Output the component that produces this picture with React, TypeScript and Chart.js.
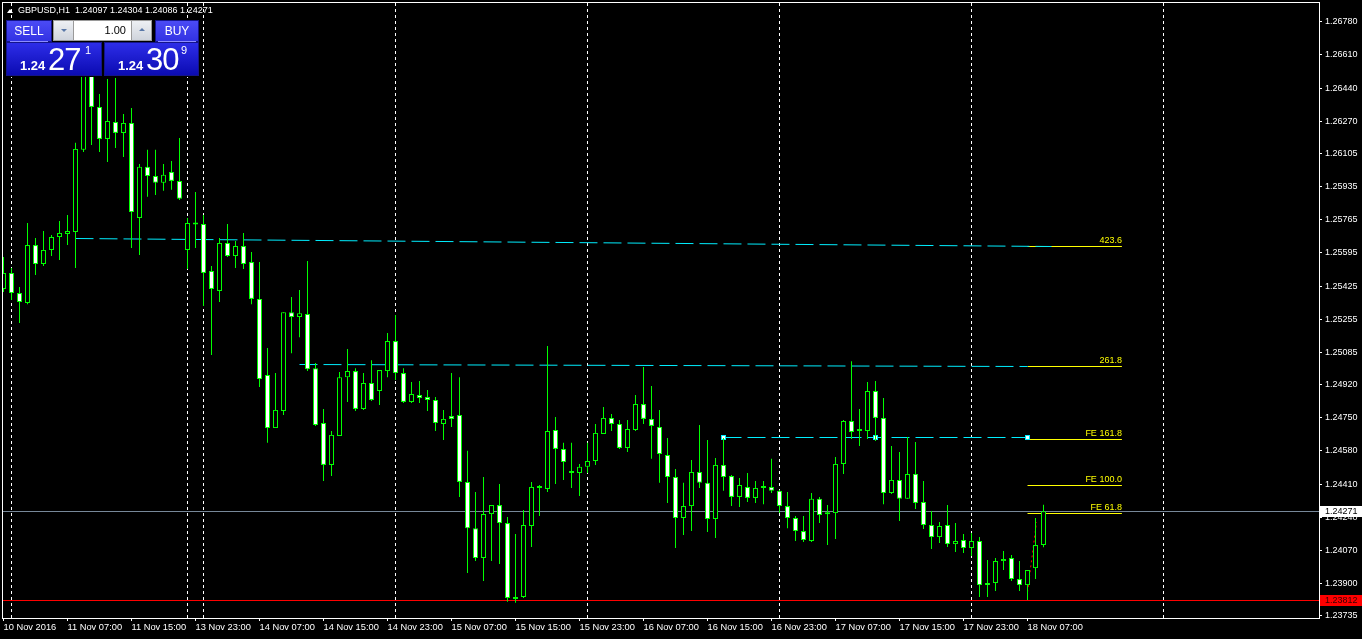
import React, { useEffect, useRef } from "react";
import { Chart, registerables } from "chart.js";

Chart.register(...registerables);

const FONT = '"Liberation Sans", Arial, sans-serif';

// ---- OHLC data, GBPUSD H1, 10 Nov 23:00 .. 18 Nov 09:00 ----
const opens = [
  1.25410, 1.25492, 1.25389, 1.25338, 1.25635, 1.25538, 1.25610, 1.25676, 1.25692, 1.25702,
  1.26123, 1.26522, 1.26343, 1.26179, 1.26266, 1.26210, 1.26261, 1.25774, 1.26036, 1.25989,
  1.25954, 1.26010, 1.25964, 1.25610, 1.25745, 1.25743, 1.25502, 1.25400, 1.25646, 1.25579,
  1.25630, 1.25548, 1.25359, 1.24969, 1.24697, 1.24785, 1.25291, 1.25266, 1.25281, 1.25004,
  1.24723, 1.24508, 1.24656, 1.24958, 1.24989, 1.24795, 1.24928, 1.24887, 1.24989, 1.25143,
  1.24979, 1.24831, 1.24866, 1.24856, 1.24841, 1.24718, 1.24759, 1.24764, 1.24421, 1.24184,
  1.24031, 1.24256, 1.24302, 1.24210, 1.23831, 1.23831, 1.24195, 1.24392, 1.24385, 1.24687,
  1.24590, 1.24469, 1.24467, 1.24498, 1.24528, 1.24667, 1.24749, 1.24718, 1.24595, 1.24687,
  1.24820, 1.24744, 1.24703, 1.24559, 1.24446, 1.24236, 1.24297, 1.24472, 1.24416, 1.24231,
  1.24508, 1.24451, 1.24344, 1.24395, 1.24339, 1.24392, 1.24395, 1.24375, 1.24297, 1.24236,
  1.24169, 1.24118, 1.24334, 1.24258, 1.24261, 1.24513, 1.24733, 1.24684, 1.24682, 1.24887,
  1.24749, 1.24364, 1.24431, 1.24334, 1.24462, 1.24318, 1.24200, 1.24138, 1.24200, 1.24102,
  1.24123, 1.24082, 1.24118, 1.23903, 1.23903, 1.24015, 1.24031, 1.23923, 1.23892, 1.23979,
  1.24097,
];
const highs = [
  1.25574, 1.25517, 1.25420, 1.25748, 1.25671, 1.25707, 1.25687, 1.25758, 1.25789, 1.26159,
  1.26609, 1.26660, 1.26409, 1.26486, 1.26491, 1.26307, 1.26338, 1.26051, 1.26123, 1.26123,
  1.26051, 1.26066, 1.26184, 1.25774, 1.25907, 1.25789, 1.25528, 1.25671, 1.25743, 1.25656,
  1.25697, 1.25599, 1.25548, 1.25107, 1.24979, 1.25291, 1.25369, 1.25405, 1.25553, 1.25030,
  1.24795, 1.24682, 1.24984, 1.25102, 1.25004, 1.24979, 1.25045, 1.24994, 1.25184, 1.25276,
  1.25004, 1.24933, 1.24938, 1.24892, 1.24856, 1.24790, 1.24979, 1.24958, 1.24580, 1.24369,
  1.24446, 1.24302, 1.24410, 1.24241, 1.24154, 1.24277, 1.24421, 1.24405, 1.25117, 1.24754,
  1.24621, 1.24621, 1.24513, 1.24621, 1.24718, 1.24805, 1.24769, 1.24738, 1.24738, 1.24866,
  1.25010, 1.24912, 1.24790, 1.24646, 1.24487, 1.24416, 1.24533, 1.24713, 1.24636, 1.24544,
  1.24646, 1.24456, 1.24441, 1.24467, 1.24426, 1.24426, 1.24539, 1.24380, 1.24369, 1.24246,
  1.24246, 1.24364, 1.24344, 1.24302, 1.24549, 1.24738, 1.25040, 1.24795, 1.24933, 1.24938,
  1.24851, 1.24605, 1.24574, 1.24651, 1.24626, 1.24426, 1.24272, 1.24215, 1.24302, 1.24210,
  1.24154, 1.24159, 1.24138, 1.24020, 1.24031, 1.24067, 1.24046, 1.24015, 1.23969, 1.24236,
  1.24304,
];
const lows = [
  1.25394, 1.25353, 1.25235, 1.25332, 1.25482, 1.25528, 1.25579, 1.25558, 1.25635, 1.25517,
  1.26112, 1.26148, 1.26112, 1.26061, 1.26133, 1.26087, 1.25620, 1.25584, 1.25882, 1.25892,
  1.25913, 1.25918, 1.25866, 1.25512, 1.25620, 1.25322, 1.25071, 1.25343, 1.25574, 1.25517,
  1.25512, 1.25332, 1.24907, 1.24621, 1.24697, 1.24764, 1.25081, 1.25163, 1.24989, 1.24708,
  1.24426, 1.24451, 1.24656, 1.24831, 1.24785, 1.24790, 1.24836, 1.24815, 1.24958, 1.24943,
  1.24826, 1.24826, 1.24826, 1.24785, 1.24682, 1.24636, 1.24703, 1.24344, 1.23954, 1.24015,
  1.23913, 1.24015, 1.24000, 1.23806, 1.23801, 1.23826, 1.24087, 1.24246, 1.24369, 1.24410,
  1.24431, 1.24390, 1.24349, 1.24467, 1.24508, 1.24667, 1.24682, 1.24590, 1.24574, 1.24682,
  1.24718, 1.24539, 1.24416, 1.24313, 1.24082, 1.24149, 1.24169, 1.24390, 1.24164, 1.24133,
  1.24375, 1.24297, 1.24292, 1.24318, 1.24313, 1.24307, 1.24364, 1.24261, 1.24184, 1.24118,
  1.24113, 1.24113, 1.24210, 1.24097, 1.24128, 1.24462, 1.24641, 1.24605, 1.24641, 1.24631,
  1.24307, 1.24359, 1.24220, 1.24334, 1.24282, 1.24179, 1.24077, 1.24108, 1.24087, 1.24061,
  1.24056, 1.24041, 1.23831, 1.23831, 1.23862, 1.23969, 1.23913, 1.23862, 1.23816, 1.23923,
  1.24086,
];
const closes = [
  1.25492, 1.25389, 1.25343, 1.25635, 1.25538, 1.25610, 1.25676, 1.25697, 1.25707, 1.26128,
  1.26522, 1.26343, 1.26179, 1.26271, 1.26210, 1.26261, 1.25804, 1.26036, 1.25989, 1.25954,
  1.25995, 1.25964, 1.25872, 1.25748, 1.25741, 1.25492, 1.25410, 1.25646, 1.25579, 1.25630,
  1.25538, 1.25359, 1.24948, 1.24697, 1.24790, 1.25291, 1.25266, 1.25286, 1.24999, 1.24713,
  1.24508, 1.24662, 1.24958, 1.24989, 1.24795, 1.24928, 1.24841, 1.24994, 1.25143, 1.24979,
  1.24831, 1.24871, 1.24851, 1.24841, 1.24723, 1.24744, 1.24744, 1.24421, 1.24184, 1.24031,
  1.24256, 1.24302, 1.24210, 1.23826, 1.23821, 1.24200, 1.24395, 1.24390, 1.24682, 1.24590,
  1.24523, 1.24466, 1.24498, 1.24528, 1.24672, 1.24749, 1.24718, 1.24595, 1.24692, 1.24820,
  1.24744, 1.24708, 1.24564, 1.24446, 1.24236, 1.24297, 1.24472, 1.24416, 1.24231, 1.24508,
  1.24446, 1.24344, 1.24405, 1.24339, 1.24390, 1.24390, 1.24375, 1.24297, 1.24236, 1.24169,
  1.24123, 1.24334, 1.24251, 1.24255, 1.24513, 1.24733, 1.24677, 1.24682, 1.24887, 1.24749,
  1.24364, 1.24431, 1.24334, 1.24462, 1.24313, 1.24200, 1.24138, 1.24195, 1.24102, 1.24118,
  1.24082, 1.24118, 1.23892, 1.23892, 1.24015, 1.24026, 1.23923, 1.23892, 1.23969, 1.24097,
  1.24271,
];

// ---- axes ----
const xTickIndex = [0, 8, 16, 24, 32, 40, 48, 56, 64, 72, 80, 88, 96, 104, 112, 120, 128];
const xTickLabels = [
  "10 Nov 2016", "11 Nov 07:00", "11 Nov 15:00", "13 Nov 23:00", "14 Nov 07:00", "14 Nov 15:00",
  "14 Nov 23:00", "15 Nov 07:00", "15 Nov 15:00", "15 Nov 23:00", "16 Nov 07:00", "16 Nov 15:00",
  "16 Nov 23:00", "17 Nov 07:00", "17 Nov 15:00", "17 Nov 23:00", "18 Nov 07:00",
];
const yTickValues = [
  1.26780, 1.26610, 1.26440, 1.26270, 1.26105, 1.25935, 1.25765, 1.25595, 1.25425, 1.25255,
  1.25085, 1.24920, 1.24750, 1.24580, 1.24410, 1.24240, 1.24070, 1.23900, 1.23735,
];
const separatorIndex = [1, 23, 25, 49, 73, 97, 121, 145];

// ---- objects ----
const bidPrice = 1.24271;
const lowLinePrice = 1.23812;
const fibLabels = ["423.6", "261.8", "FE 161.8", "FE 100.0", "FE 61.8"];
const fibPrices = [1.25630, 1.25015, 1.24640, 1.24403, 1.24260];
const fibStartIndex = 128;
const fibEndIndex = 139.8;
const cyanStartIndex = [9, 37, 90];
const cyanStartPrice = [1.25671, 1.25023, 1.24646];
const cyanEndIndex = [131, 128, 128];
const cyanEndPrice = [1.25630, 1.25012, 1.24649];
const anchorIndex = [90, 109, 128];
const anchorPrice = [1.24646, 1.24646, 1.24649];
const redTrendIndex = [128, 129.1];
const redTrendPrice = [1.23856, 1.24215];

const X_MIN = -0.0625;
const X_MAX = 164.4375;
const Y_MIN = 1.237233;
const Y_MAX = 1.268758;

const mtPlugin = {
  id: "mt4",
  beforeDraw(chart: any) {
    const c = chart.ctx;
    c.save();
    c.fillStyle = "#000";
    c.fillRect(0, 0, chart.width, chart.height);
    c.restore();
  },
  beforeDatasetsDraw(chart: any) {
    const { ctx, chartArea: a } = chart;
    const xs = chart.scales.x;
    const ys = chart.scales.y;
    const X = (i: number) => Math.floor(xs.getPixelForValue(i)) + 0.5;
    const Y = (p: number) => Math.floor(ys.getPixelForValue(p)) + 0.5;
    ctx.save();
    ctx.beginPath();
    ctx.rect(a.left, a.top, a.right - a.left, a.bottom - a.top);
    ctx.clip();
    ctx.lineWidth = 1;

    // period separators
    ctx.strokeStyle = "#ffffff";
    ctx.setLineDash([3, 3]);
    for (const i of separatorIndex) {
      const x = X(i);
      ctx.beginPath();
      ctx.moveTo(x, a.top);
      ctx.lineTo(x, a.bottom);
      ctx.stroke();
    }

    // fibo expansion level segments
    ctx.setLineDash([]);
    ctx.strokeStyle = "#ffff00";
    fibPrices.forEach((p) => {
      const y = Y(p);
      ctx.beginPath();
      ctx.moveTo(X(fibStartIndex), y);
      ctx.lineTo(xs.getPixelForValue(fibEndIndex), y);
      ctx.stroke();
    });
    ctx.fillStyle = "#ffff00";
    ctx.font = `9px ${FONT}`;
    ctx.textAlign = "right";
    ctx.textBaseline = "alphabetic";
    fibPrices.forEach((p, k) => {
      ctx.fillText(fibLabels[k], xs.getPixelForValue(fibEndIndex), Y(p) - 3.5);
    });

    // cyan dashed lines
    ctx.strokeStyle = "#00eeff";
    ctx.setLineDash([18, 6]);
    for (let k = 0; k < cyanStartIndex.length; k++) {
      ctx.beginPath();
      ctx.moveTo(xs.getPixelForValue(cyanStartIndex[k]), Y(cyanStartPrice[k]));
      ctx.lineTo(xs.getPixelForValue(cyanEndIndex[k]), Y(cyanEndPrice[k]));
      ctx.stroke();
    }
    ctx.setLineDash([]);
    for (let k = 0; k < anchorIndex.length; k++) {
      const x = Math.floor(xs.getPixelForValue(anchorIndex[k]));
      const y = Math.floor(ys.getPixelForValue(anchorPrice[k]));
      ctx.fillStyle = "#00eeff";
      ctx.fillRect(x - 2, y - 2, 5, 5);
      ctx.fillStyle = "#ffffff";
      ctx.fillRect(x - 1, y - 1, 3, 3);
    }

    // bid line and low line
    ctx.strokeStyle = "#778899";
    ctx.beginPath();
    ctx.moveTo(a.left, Y(bidPrice));
    ctx.lineTo(a.right, Y(bidPrice));
    ctx.stroke();
    ctx.strokeStyle = "#ff0000";
    ctx.beginPath();
    ctx.moveTo(a.left, Y(lowLinePrice));
    ctx.lineTo(a.right, Y(lowLinePrice));
    ctx.stroke();

    // red dotted trend
    ctx.setLineDash([2, 3]);
    ctx.beginPath();
    ctx.moveTo(X(redTrendIndex[0]), ys.getPixelForValue(redTrendPrice[0]));
    ctx.lineTo(X(redTrendIndex[1]), ys.getPixelForValue(redTrendPrice[1]));
    ctx.stroke();
    ctx.restore();
  },
  afterDraw(chart: any) {
    const { ctx, chartArea: a } = chart;
    const ys = chart.scales.y;
    ctx.save();
    ctx.strokeStyle = "#ffffff";
    ctx.lineWidth = 1;
    ctx.setLineDash([]);
    ctx.strokeRect(a.left - 0.5, a.top - 0.5, a.right - a.left + 1, a.bottom - a.top + 1);

    ctx.font = `9px ${FONT}`;
    ctx.textAlign = "left";
    ctx.textBaseline = "middle";
    const yb = Math.floor(ys.getPixelForValue(bidPrice));
    ctx.fillStyle = "#ffffff";
    ctx.fillRect(a.right + 1, yb - 5, chart.width - a.right - 1, 11);
    ctx.fillStyle = "#000000";
    ctx.fillText(bidPrice.toFixed(5), a.right + 6, yb + 0.5);
    const yl = Math.floor(ys.getPixelForValue(lowLinePrice));
    ctx.fillStyle = "#ff0000";
    ctx.fillRect(a.right + 1, yl - 5, chart.width - a.right - 1, 11);
    ctx.fillStyle = "#3a0000";
    ctx.fillText(lowLinePrice.toFixed(5), a.right + 6, yl + 0.5);
    ctx.restore();
  },
};

const blueTop = "linear-gradient(#4c4cf6, #3131e2)";
const blueBox = "linear-gradient(#2e2eea, #0a0ab0)";

const abs = (s: React.CSSProperties): React.CSSProperties => ({ position: "absolute", ...s });

export default function App() {
  const ref = useRef<HTMLCanvasElement>(null);

  useEffect(() => {
    const idx = opens.map((_, i) => i);
    const bull = opens.map((o, i) => closes[i] > o);
    const bodyData = idx.map((i) => ({ x: i, y: [opens[i], closes[i]] }));
    const wickData = idx.map((i) => ({ x: i, y: [lows[i], highs[i]] }));

    const chart = new Chart(ref.current as HTMLCanvasElement, {
      type: "bar",
      data: {
        datasets: [
          {
            label: "body",
            data: bodyData as any,
            order: 0,
            grouped: false,
            barThickness: 5,
            minBarLength: 2,
            backgroundColor: bull.map((b) => (b ? "#000000" : "#ffffff")),
            borderColor: "#00ff00",
            borderWidth: 1,
            borderSkipped: false,
            inflateAmount: 0,
          } as any,
          {
            label: "wick",
            data: wickData as any,
            order: 1,
            grouped: false,
            barThickness: 1,
            backgroundColor: "#00ff00",
            borderWidth: 0,
            inflateAmount: 0,
          } as any,
        ],
      },
      options: {
        animation: false,
        responsive: false,
        events: [],
        layout: { padding: { left: 3, top: 3, right: 0, bottom: 0 } },
        plugins: { legend: { display: false }, tooltip: { enabled: false } },
        scales: {
          x: {
            type: "linear",
            min: X_MIN,
            max: X_MAX,
            offset: false,
            afterFit: (s: any) => {
              s.height = 21;
              s.paddingLeft = 0;
              s.paddingRight = 0;
              s.paddingTop = 0;
              s.paddingBottom = 0;
            },
            afterBuildTicks: (s: any) => {
              s.ticks = xTickIndex.map((v) => ({ value: v }));
            },
            ticks: {
              color: "#ffffff",
              font: { family: FONT, size: 9.3 },
              padding: 1,
              maxRotation: 0,
              minRotation: 0,
              autoSkip: false,
              align: "start",
              callback: (_v: any, i: number) => xTickLabels[i],
            },
            grid: { offset: false, drawOnChartArea: false, drawTicks: true, tickLength: 3, color: "#ffffff" },
            border: { display: false },
          } as any,
          y: {
            type: "linear",
            position: "right",
            min: Y_MIN,
            max: Y_MAX,
            beginAtZero: false,
            afterFit: (s: any) => {
              s.width = 43;
              s.paddingLeft = 0;
              s.paddingRight = 0;
              s.paddingTop = 0;
              s.paddingBottom = 0;
            },
            afterBuildTicks: (s: any) => {
              s.ticks = yTickValues.map((v) => ({ value: v }));
            },
            ticks: {
              color: "#ffffff",
              font: { family: FONT, size: 9 },
              padding: 3,
              autoSkip: false,
              callback: (v: any) => Number(v).toFixed(5),
            },
            grid: { drawOnChartArea: false, drawTicks: true, tickLength: 3, color: "#ffffff" },
            border: { display: false },
          } as any,
        },
      },
      plugins: [mtPlugin],
    });
    return () => chart.destroy();
  }, []);

  const white = "#ffffff";
  return (
    <div style={{ position: "fixed", left: 0, top: 0, width: 1362, height: 639, background: "#000", overflow: "hidden" }}>
      <canvas ref={ref} width={1362} height={639} style={{ position: "absolute", left: 0, top: 0, width: 1362, height: 639, display: "block" }} />

      {/* header */}
      <div style={abs({ left: 7, top: 9, width: 0, height: 0, borderLeft: "3px solid transparent", borderRight: "3px solid transparent", borderBottom: "4px solid #ffffff" })} />
      <div style={abs({ left: 18, top: 6, color: white, font: `9px/9px ${FONT}`, whiteSpace: "pre" })}>
        {"GBPUSD,H1  1.24097 1.24304 1.24086 1.24271"}
      </div>

      {/* one-click trading panel */}
      <div style={abs({ left: 5, top: 19, width: 196, height: 58, background: "#000" })} />
      <div style={abs({ left: 6, top: 20, width: 46, height: 22, background: blueTop, boxShadow: "inset 0 0 0 1px #14148a" })} />
      <div style={abs({ left: 6, top: 25, width: 46, textAlign: "center", color: white, font: `12px/12px ${FONT}` })}>SELL</div>
      <div style={abs({ left: 10, top: 41, width: 38, height: 1, background: "#8c8cff" })} />

      <div style={abs({ left: 155, top: 20, width: 44, height: 22, background: blueTop, boxShadow: "inset 0 0 0 1px #14148a" })} />
      <div style={abs({ left: 155, top: 25, width: 44, textAlign: "center", color: white, font: `12px/12px ${FONT}` })}>BUY</div>
      <div style={abs({ left: 158, top: 41, width: 38, height: 1, background: "#8c8cff" })} />

      <div style={abs({ left: 53, top: 20, width: 99, height: 21, background: "#9a9a9a" })} />
      <div style={abs({ left: 54, top: 21, width: 19, height: 19, background: "linear-gradient(#eef0f4, #cfd4dc)" })} />
      <div style={abs({ left: 61, top: 29, width: 0, height: 0, borderLeft: "3px solid transparent", borderRight: "3px solid transparent", borderTop: "3px solid #5a78a8" })} />
      <div style={abs({ left: 74, top: 21, width: 57, height: 19, background: "#ffffff" })} />
      <div style={abs({ left: 74, top: 25, width: 52, textAlign: "right", color: "#000", font: `11px/11px ${FONT}` })}>1.00</div>
      <div style={abs({ left: 132, top: 21, width: 19, height: 19, background: "linear-gradient(#eef0f4, #cfd4dc)" })} />
      <div style={abs({ left: 139, top: 28, width: 0, height: 0, borderLeft: "3px solid transparent", borderRight: "3px solid transparent", borderBottom: "3px solid #5a78a8" })} />

      <div style={abs({ left: 6, top: 42, width: 96, height: 34, background: blueBox, boxShadow: "inset 0 0 0 1px #14148a" })} />
      <div style={abs({ left: 20, top: 59, color: white, font: `bold 13px/13px ${FONT}` })}>1.24</div>
      <div style={abs({ left: 48, top: 44, color: white, font: `31px/31px ${FONT}`, letterSpacing: "-1px" })}>27</div>
      <div style={abs({ left: 85, top: 45, color: white, font: `11px/11px ${FONT}` })}>1</div>

      <div style={abs({ left: 104, top: 42, width: 95, height: 34, background: blueBox, boxShadow: "inset 0 0 0 1px #14148a" })} />
      <div style={abs({ left: 118, top: 59, color: white, font: `bold 13px/13px ${FONT}` })}>1.24</div>
      <div style={abs({ left: 146, top: 44, color: white, font: `31px/31px ${FONT}`, letterSpacing: "-1px" })}>30</div>
      <div style={abs({ left: 181, top: 45, color: white, font: `11px/11px ${FONT}` })}>9</div>
    </div>
  );
}
